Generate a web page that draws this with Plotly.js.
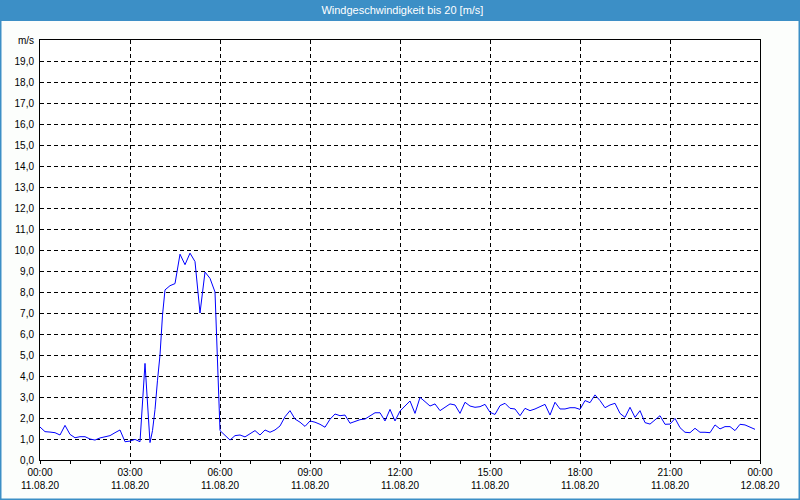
<!DOCTYPE html>
<html>
<head>
<meta charset="utf-8">
<script src="https://cdn.plot.ly/plotly-3.0.1.min.js"></script>
<style>
  html, body { margin: 0; padding: 0; background: #fcfefc; }
  #chart { width: 800px; height: 500px; }
</style>
</head>
<body>
<div id="chart"></div>
<script>
// ---- data ----
const chartTitle = "Windgeschwindigkeit bis 20 [m/s]";
const day = "2020-08-11";
const times = [
  "00:00","00:10","00:20","00:30","00:40","00:50","01:00","01:10","01:20","01:30","01:40","01:50",
  "02:00","02:10","02:20","02:30","02:40","02:50","03:00","03:10","03:20","03:30","03:40","03:45",
  "03:50","03:55","04:00","04:05","04:10","04:20","04:30","04:40","04:50","05:00","05:10","05:20",
  "05:30","05:40","05:50","06:00","06:10","06:20","06:30","06:40","06:50","07:00","07:10","07:20",
  "07:30","07:40","07:50","08:00","08:10","08:20","08:30","08:40","08:50","09:00","09:10","09:20",
  "09:30","09:40","09:50","10:00","10:10","10:20","10:30","10:40","10:50","11:00","11:10","11:20",
  "11:30","11:40","11:50","12:00","12:10","12:20","12:30","12:40","12:50","13:00","13:10","13:20",
  "13:30","13:40","13:50","14:00","14:10","14:20","14:30","14:40","14:50","15:00","15:10","15:20",
  "15:30","15:40","15:50","16:00","16:10","16:20","16:30","16:40","16:50","17:00","17:10","17:20",
  "17:30","17:40","17:50","18:00","18:10","18:20","18:30","18:40","18:50","19:00","19:10","19:20",
  "19:30","19:40","19:50","20:00","20:10","20:20","20:30","20:40","20:50","21:00","21:10","21:20",
  "21:30","21:40","21:50","22:00","22:10","22:20","22:30","22:40","22:50","23:00","23:10","23:20",
  "23:30","23:40","23:50"
];
const speeds = [
  1.57,1.35,1.33,1.30,1.19,1.65,1.22,1.06,1.11,1.11,1.00,0.95,
  1.05,1.11,1.16,1.30,1.43,0.87,0.90,0.98,0.87,4.60,0.83,1.40,
  2.40,3.80,5.00,6.90,8.10,8.30,8.40,9.80,9.30,9.85,9.45,7.00,
  8.95,8.65,8.00,1.40,1.19,0.95,1.16,1.19,1.10,1.25,1.40,1.19,
  1.43,1.32,1.43,1.62,2.06,2.35,1.95,1.80,1.60,1.86,1.80,1.70,
  1.56,1.94,2.19,2.11,2.14,1.75,1.85,1.92,1.95,2.10,2.25,2.25,
  1.86,2.41,1.86,2.33,2.57,2.81,2.22,2.98,2.78,2.57,2.67,2.35,
  2.51,2.67,2.62,2.22,2.75,2.57,2.51,2.54,2.65,2.27,2.17,2.59,
  2.70,2.46,2.43,2.11,2.46,2.35,2.43,2.54,2.65,2.14,2.75,2.43,
  2.43,2.49,2.49,2.41,2.83,2.73,3.10,2.83,2.49,2.62,2.70,2.22,
  2.03,2.51,2.03,2.35,1.78,1.71,1.90,2.11,1.70,1.71,1.98,1.54,
  1.32,1.30,1.51,1.32,1.32,1.30,1.67,1.48,1.59,1.59,1.40,1.70,
  1.67,1.56,1.46
];
const xTickVals = ["2020-08-11 00:00","2020-08-11 03:00","2020-08-11 06:00","2020-08-11 09:00",
  "2020-08-11 12:00","2020-08-11 15:00","2020-08-11 18:00","2020-08-11 21:00","2020-08-12 00:00"];
const xTickText = ["00:00<br>11.08.20","03:00<br>11.08.20","06:00<br>11.08.20","09:00<br>11.08.20",
  "12:00<br>11.08.20","15:00<br>11.08.20","18:00<br>11.08.20","21:00<br>11.08.20","00:00<br>12.08.20"];
const yTickVals = [0,1,2,3,4,5,6,7,8,9,10,11,12,13,14,15,16,17,18,19,20];
const yTickText = ["0,0","1,0","2,0","3,0","4,0","5,0","6,0","7,0","8,0","9,0","10,0","11,0","12,0",
  "13,0","14,0","15,0","16,0","17,0","18,0","19,0","m/s"];

// ---- chart ----
const x = times.map(t => day + " " + t);
const FONT = "Liberation Sans, Arial, sans-serif";
const BLUE = "#3c8fc6";
// pixel -> paper helpers (plot area 40..760 x, 40..460 y)
const px = p => (p - 40) / 720;
const py = p => (460 - p) / 420;

const trace = {
  type: "scatter", mode: "lines", x: x, y: speeds,
  line: { color: "#0000ff", width: 1 }, hoverinfo: "x+y"
};

const layout = {
  width: 800, height: 500,
  margin: { l: 40, r: 40, t: 40, b: 40, pad: 0 },
  paper_bgcolor: "#fcfefc", plot_bgcolor: "#ffffff",
  showlegend: false,
  font: { family: FONT, size: 10, color: "#000000" },
  title: {
    text: chartTitle, xref: "container", yref: "container", x: 0.503, y: 1 - 10.5/500,
    xanchor: "center", yanchor: "middle",
    font: { family: FONT, size: 11, color: "#ffffff" }
  },
  xaxis: {
    type: "date",
    range: ["2020-08-11 00:00", "2020-08-12 00:00"],
    tickmode: "array", tickvals: xTickVals, ticktext: xTickText,
    ticks: "outside", ticklen: 3, tickcolor: "#000", tickwidth: 1,
    showline: true, linecolor: "#000", linewidth: 1, mirror: true,
    showgrid: true, gridcolor: "#000", gridwidth: 1, griddash: "4px,3px",
    minor: { dtick: 3600000, tick0: "2020-08-11 00:00", ticks: "outside", ticklen: 3, tickcolor: "#000", showgrid: false },
    zeroline: false, fixedrange: true,
    tickfont: { family: FONT, size: 10, color: "#000" }
  },
  yaxis: {
    range: [0, 20],
    tickmode: "array", tickvals: yTickVals, ticktext: yTickText,
    ticks: "", ticklabelstandoff: 3,
    showline: true, linecolor: "#000", linewidth: 1, mirror: true,
    showgrid: true, gridcolor: "#000", gridwidth: 1, griddash: "4px,3px",
    zeroline: false, fixedrange: true,
    tickfont: { family: FONT, size: 10, color: "#000" }
  },
  shapes: [
    { type: "rect", xref: "paper", yref: "paper", layer: "below",
      x0: px(0), x1: px(800), y0: py(21), y1: py(0),
      fillcolor: BLUE, line: { width: 0 } },
    { type: "rect", xref: "paper", yref: "paper", layer: "above",
      x0: px(0.75), x1: px(799.25), y0: py(499.25), y1: py(0.75),
      fillcolor: "rgba(0,0,0,0)", line: { color: BLUE, width: 1.5 } }
  ]
};

Plotly.newPlot("chart", [trace], layout, { displayModeBar: false, staticPlot: true });
</script>
</body>
</html>
